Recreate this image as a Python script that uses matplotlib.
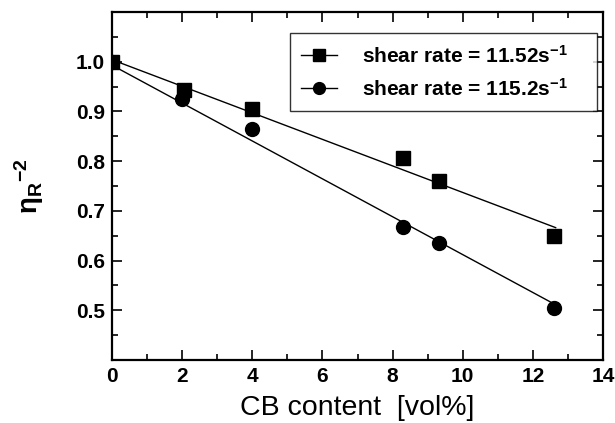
import numpy as np
import matplotlib
matplotlib.use("Agg")
import matplotlib.pyplot as plt
from matplotlib.ticker import MultipleLocator, FixedLocator

plt.rcParams['font.family'] = ['Liberation Sans', 'DejaVu Sans']
plt.rcParams['font.weight'] = 'bold'
plt.rcParams['mathtext.fontset'] = 'custom'
plt.rcParams['mathtext.rm'] = 'Liberation Sans'
plt.rcParams['mathtext.it'] = 'Liberation Sans:italic'
plt.rcParams['mathtext.bf'] = 'Liberation Sans:bold'

# Data
cb_sq = [0.0, 2.05, 3.98, 8.3, 9.33, 12.6]
eta_sq = [1.0, 0.943, 0.905, 0.806, 0.761, 0.649]
cb_ci = [0.0, 2.0, 3.98, 8.3, 9.33, 12.6]
eta_ci = [1.0, 0.926, 0.865, 0.668, 0.635, 0.505]

# Fitted straight lines (intercept, slope)
fit_sq = (1.004, -0.0267)
fit_ci = (0.993, -0.0381)
fit_sq_range = [0.0, 12.65]
fit_ci_range = [0.0, 12.6]

labels = [r'shear rate = 11.52s$^{\mathbf{-1}}$', r'shear rate = 115.2s$^{\mathbf{-1}}$']

fig = plt.figure(figsize=(6.15, 4.23), dpi=100)
ax = fig.add_axes([112/615, 1-360/423, (603-112)/615, (360-12)/423])

for xs, ys, fit, rng, mk, ms, lab in [
        (cb_sq, eta_sq, fit_sq, fit_sq_range, 's', 10, labels[0]),
        (cb_ci, eta_ci, fit_ci, fit_ci_range, 'o', 10, labels[1])]:
    xr = np.array(rng)
    ax.plot(xr, fit[0] + fit[1]*xr, color='black', lw=1.0, zorder=2)
    ax.plot(xs, ys, linestyle='none', marker=mk, ms=ms, color='black', zorder=3)
    ax.plot([], [], color='black', lw=1.0, marker=mk, ms=ms*0.85, label=lab)

ax.set_xlim(0, 14)
ax.set_ylim(0.4, 1.1)
ax.xaxis.set_major_locator(MultipleLocator(2))
ax.xaxis.set_minor_locator(MultipleLocator(1))
ax.yaxis.set_major_locator(FixedLocator([0.5, 0.6, 0.7, 0.8, 0.9, 1.0]))
ax.yaxis.set_minor_locator(MultipleLocator(0.05))
ax.tick_params(which='both', direction='in', top=True, right=True, width=1.2)
ax.tick_params(which='major', length=7, pad=5, labelsize=15)
ax.tick_params(which='minor', length=4)
for sp in ax.spines.values():
    sp.set_linewidth(1.6)

ax.set_xlabel('CB content  [vol%]', fontsize=20.5, fontweight='normal')
ax.xaxis.label.set_va('center')
ax.xaxis.set_label_coords(0.5, -0.138)
ax.set_ylabel(r'$\mathrm{\eta}_{\mathrm{R}}{}^{\mathrm{-2}}$', fontsize=20, fontweight='normal')
ax.yaxis.label.set_va('center')
ax.yaxis.set_label_coords(-0.168, 0.5)

leg = ax.legend(loc='upper left', bbox_to_anchor=(0.3625, 0.718, 0.6255, 0.2217),
                mode='expand', borderaxespad=0,
                frameon=True, fancybox=False, edgecolor='black', handlelength=1.7,
                handletextpad=1.2, borderpad=0.55, labelspacing=0.55,
                prop={'weight': 'bold', 'size': 15})
leg.get_frame().set_linewidth(1.0)

fig.savefig('out.png', dpi=100)
